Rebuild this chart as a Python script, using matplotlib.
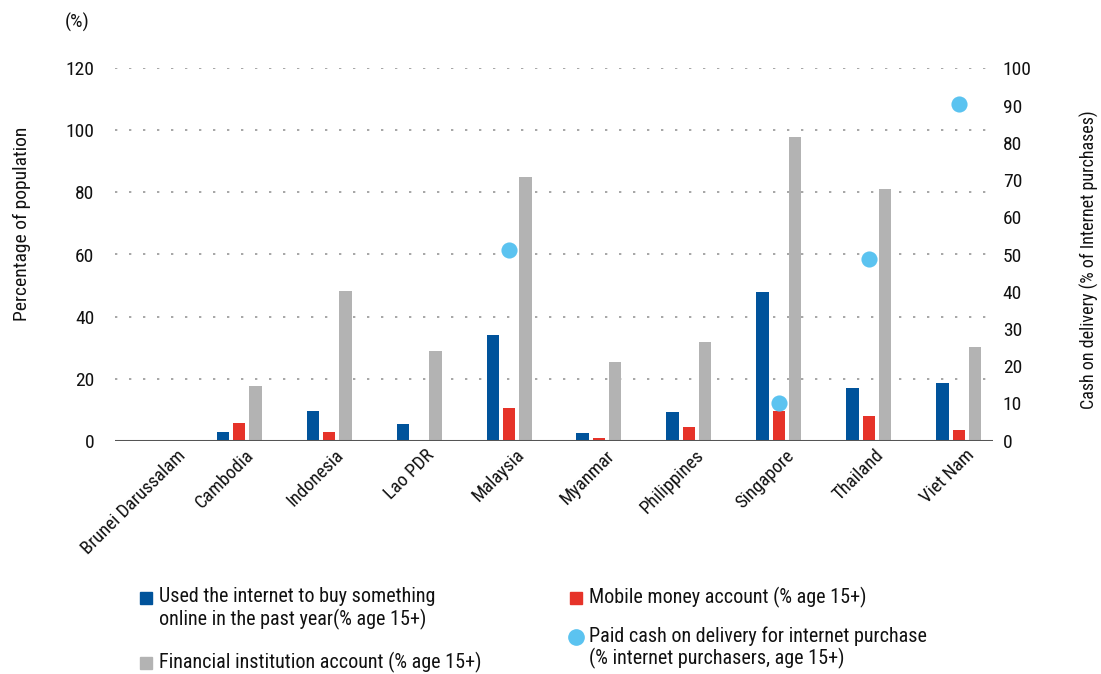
import numpy as np
import matplotlib.pyplot as plt
import matplotlib.transforms as mtransforms
from matplotlib.lines import Line2D

plt.rcParams['font.family'] = ['Roboto Condensed', 'Liberation Sans', 'DejaVu Sans']

# 数据
countries = ['Brunei Darussalam', 'Cambodia', 'Indonesia', 'Lao PDR', 'Malaysia',
             'Myanmar', 'Philippines', 'Singapore', 'Thailand', 'Viet Nam']
internet_buy = [np.nan, 2.8, 9.7, 5.3, 34.0, 2.6, 9.1, 48.0, 16.9, 18.7]
mobile_money = [np.nan, 5.6, 2.8, np.nan, 10.6, 0.8, 4.4, 9.5, 8.1, 3.4]
fin_account = [np.nan, 17.7, 48.2, 29.0, 85.1, 25.5, 31.7, 97.8, 81.0, 30.1]
cash_delivery = [np.nan, np.nan, np.nan, np.nan, 51.3, np.nan, np.nan, 10.0, 48.7, 90.4]

left_ticks = [0, 20, 40, 60, 80, 100, 120]
right_ticks = [0, 10, 20, 30, 40, 50, 60, 70, 80, 90, 100]

c_blue = '#00539b'
c_red = '#e63329'
c_gray = '#b3b3b3'
c_cyan = '#5bc3f0'
c_text = '#111111'

W, H = 1101, 674
fig = plt.figure(figsize=(W / 100, H / 100), dpi=100)
ax = fig.add_axes([115 / W, 1 - 440.7 / H, (993 - 115) / W, (440.7 - 68.3) / H])

x = np.arange(len(countries))
w = 0.14
off = 0.18
ax.bar(x - off, internet_buy, w, color=c_blue, zorder=3)
ax.bar(x, mobile_money, w, color=c_red, zorder=3)
ax.bar(x + off, fin_account, w, color=c_gray, zorder=3)

ax.set_xlim(-0.378, len(countries) - 1 + 0.378)
ax.set_ylim(0, 120)
ax.set_yticks(left_ticks)
ax.set_yticklabels([str(t) for t in left_ticks])
for t in left_ticks[1:]:
    ax.axhline(t, color='#a6a6a6', lw=1.4, linestyle=(0, (1.2, 6)), zorder=1)
ax.axhline(0, color='#555555', lw=2.2, zorder=4)

ax.set_xticks(x)
ax.set_xticklabels(countries, rotation=45, ha='right', rotation_mode='anchor',
                   fontsize=13.5, color=c_text)
ax.tick_params(axis='x', length=0, pad=4)
ax.tick_params(axis='y', length=0, pad=15, labelsize=14, labelcolor=c_text)
for i, lab in enumerate(ax.get_xticklabels()):
    dx = 28 if i == 0 else 6  # 第一个标签被挤向右边
    lab.set_transform(lab.get_transform() + mtransforms.ScaledTranslation(dx / 100, 0, fig.dpi_scale_trans))
for s in ax.spines.values():
    s.set_visible(False)

ax2 = ax.twinx()
ax2.scatter(x, cash_delivery, s=135, color=c_cyan, zorder=5, linewidths=0)
ax2.set_ylim(0, 100)
ax2.set_yticks(right_ticks)
ax2.tick_params(axis='y', length=0, pad=7, labelsize=14, labelcolor=c_text)
for s in ax2.spines.values():
    s.set_visible(False)

fig.text(77 / W, 1 - 22 / H, '(%)', ha='center', va='center', fontsize=14, color=c_text)
fig.text(22 / W, 1 - 224 / H, 'Percentage of population', rotation=90,
         ha='center', va='center', fontsize=14, color=c_text)
fig.text(1089 / W, 1 - 260 / H, 'Cash on delivery (% of Internet purchases)', rotation=90,
         ha='center', va='center', fontsize=13, color=c_text)

# 图例（手动放置）
legend_items = [
    ('s', c_blue, 146, 598, 159, 'Used the internet to buy something\nonline in the past year(% age 15+)'),
    ('s', c_gray, 146, 663, 159, 'Financial institution account (% age 15+)'),
    ('s', c_red, 576, 598, 589, 'Mobile money account (% age 15+)'),
    ('o', c_cyan, 576, 637, 589, 'Paid cash on delivery for internet purchase\n(% internet purchasers, age 15+)'),
]
for m, c, mx, my, tx, label in legend_items:
    ms = 9 if m == 's' else 11
    fig.add_artist(Line2D([mx / W], [1 - my / H], marker=m, color=c, markersize=ms,
                          linestyle='none', transform=fig.transFigure))
    fig.text(tx / W, 1 - (my - 11) / H, label, ha='left', va='top', fontsize=14.5,
             color=c_text, linespacing=1.15)

fig.savefig('out.png', dpi=100)
